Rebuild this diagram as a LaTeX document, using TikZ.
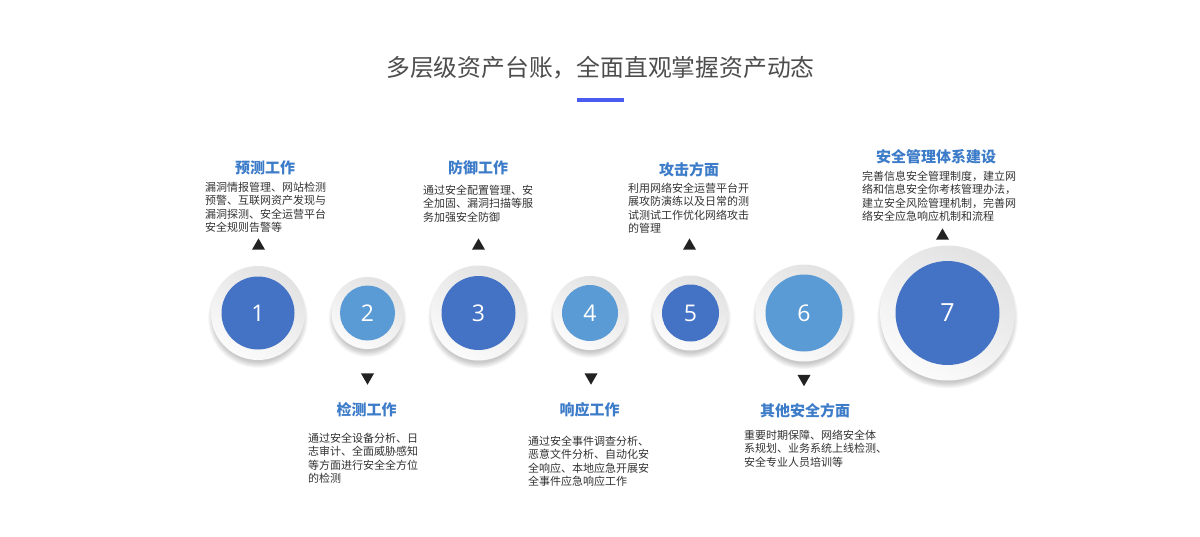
\documentclass[tikz,border=0pt]{standalone}
\usepackage{fontspec}
\setmainfont{Noto Sans CJK SC}
\newfontfamily\numfont{Open Sans}
\usetikzlibrary{backgrounds,shapes.geometric}
\definecolor{darkblue}{HTML}{4472C4}
\definecolor{lightblue}{HTML}{5B9BD5}
\definecolor{titleblue}{HTML}{3D7CC9}
\definecolor{bodygray}{HTML}{333333}
\definecolor{headgray}{HTML}{4D4D4D}
\definecolor{barblue}{HTML}{4A5CF0}
\definecolor{linegray}{HTML}{C4C4C4}
\definecolor{ringtop}{HTML}{E2E2E2}
\definecolor{ringbot}{HTML}{FBFBFB}
\definecolor{trigray}{HTML}{222222}
\tikzset{
  ring/.style={circle, inner sep=0pt, outer sep=0pt, shading=axis, top color=ringtop, bottom color=ringbot, shading angle=-30},
  disc/.style={circle, inner sep=0pt, outer sep=0pt, text=white},
  conn/.style={draw=linegray, line width=7pt},
  uptri/.style={regular polygon, regular polygon sides=3, minimum size=15pt, inner sep=0pt, outer sep=0pt, fill=trigray},
  downtri/.style={uptri, shape border rotate=180},
  steptitle/.style={anchor=base, inner sep=0pt, text=titleblue, font=\bfseries\fontsize{15}{15}\selectfont},
  stepbody/.style={anchor=base west, align=left, inner sep=0pt, text=bodygray, font=\fontsize{11}{13.5}\selectfont},
}
% #1 name, #2 x, #3 outer diameter, #4 inner diameter, #5 colour, #6 number, #7 number size
\newcommand\stepdisc[7]{%
  \foreach \k in {0,...,7}{\fill[black, opacity=0.028] (#2,318) circle[radius={#3/2-3+\k*0.85}];}
  \node[ring, minimum size=#3] (#1) at (#2,313) {};
  \node[disc, fill=#5, minimum size=#4, font=\numfont\fontsize{#7}{#7}\selectfont] (#1-in) at (#2,313) {#6};
}
\begin{document}
\begin{tikzpicture}[x=1pt,y=-1pt]
\fill[white] (0,0) rectangle (1200,536);
\useasboundingbox (0,0) rectangle (1200,536);

% heading
\node[anchor=base, inner sep=0pt, text=headgray, font=\fontsize{23.8}{23.8}\selectfont] (head) at (600.5,76) {多层级资产台账，全面直观掌握资产动态};
\node[fill=barblue, minimum width=47pt, minimum height=3.5pt, inner sep=0pt] (bar) at (600.5,99.8) {};

% circles
\stepdisc{c1}{258}{94}{73}{darkblue}{1}{23}
\stepdisc{c2}{367.5}{72}{55}{lightblue}{2}{23}
\stepdisc{c3}{478.5}{95}{74}{darkblue}{3}{23}
\stepdisc{c4}{590}{74}{56}{lightblue}{4}{23}
\stepdisc{c5}{690.5}{75}{57}{darkblue}{5}{23}
\stepdisc{c6}{804}{97}{77}{lightblue}{6}{23}
\stepdisc{c7}{947.5}{135}{104}{darkblue}{7}{25}

\coordinate (lstart) at (150,313);
\coordinate (lend) at (1048,313);
\begin{pgfonlayer}{background}
\draw[conn] (lstart) -- (c1) (c1) -- (c2) (c2) -- (c3) (c3) -- (c4) (c4) -- (c5) (c5) -- (c6) (c6) -- (c7) (c7) -- (lend);
\end{pgfonlayer}

% triangles
\node[uptri] (t1) at (258.5,245.9) {};
\node[uptri] (t3) at (478.5,245.9) {};
\node[uptri] (t5) at (689.5,245.9) {};
\node[uptri] (t7) at (942.5,235.9) {};
\node[downtri] (t2) at (367.5,377.2) {};
\node[downtri] (t4) at (591,377.2) {};
\node[downtri] (t6) at (804,378.7) {};

% upper texts (base anchor = baseline of the last line)
\node[steptitle] (h1) at (265,173.7) {预测工作};
\node[stepbody] (b1) at (205,231.7) {漏洞情报管理、网站检测\\预警、互联网资产发现与\\漏洞探测、安全运营平台\\安全规则告警等};
\node[steptitle] (h3) at (478,173.7) {防御工作};
\node[stepbody] (b3) at (423,221.2) {通过安全配置管理、安\\全加固、漏洞扫描等服\\务加强安全防御};
\node[steptitle] (h5) at (689,175.7) {攻击方面};
\node[stepbody] (b5) at (628,232.7) {利用网络安全运营平台开\\展攻防演练以及日常的测\\试测试工作优化网络攻击\\的管理};
\node[steptitle] (h7) at (936,162.7) {安全管理体系建设};
\node[stepbody] (b7) at (862,220.7) {完善信息安全管理制度，建立网\\络和信息安全你考核管理办法，\\建立安全风险管理机制，完善网\\络安全应急响应机制和流程};

% lower texts
\node[steptitle] (h2) at (366.5,415.7) {检测工作};
\node[stepbody] (b2) at (308,482.5) {通过安全设备分析、日\\志审计、全面威胁感知\\等方面进行安全全方位\\的检测};
\node[steptitle] (h4) at (589.5,415.7) {响应工作};
\node[stepbody] (b4) at (528,485.7) {通过安全事件调查分析、\\恶意文件分析、自动化安\\全响应、本地应急开展安\\全事件应急响应工作};
\node[steptitle] (h6) at (805,416.7) {其他安全方面};
\node[stepbody] (b6) at (744,466.2) {重要时期保障、网络安全体\\系规划、业务系统上线检测、\\安全专业人员培训等};
\end{tikzpicture}
\end{document}
